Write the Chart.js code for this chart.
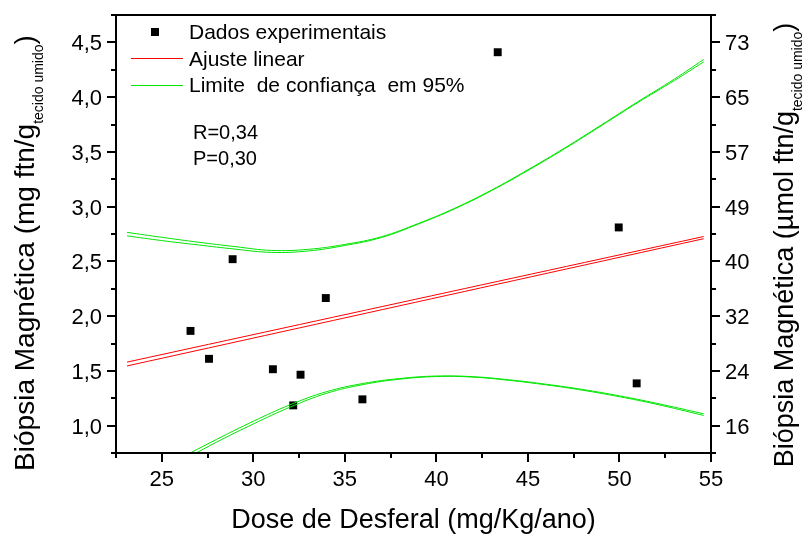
<!DOCTYPE html>
<html>
<head>
<meta charset="utf-8">
<script src="https://cdn.jsdelivr.net/npm/chart.js@4"></script>
<style>
  html, body { margin: 0; padding: 0; background: #fff; }
</style>
</head>
<body>
<canvas id="grafico" width="803" height="536"></canvas>
<script>
// Dados experimentais (dose x biópsia)
const doseX = [26.57, 27.58, 28.87, 31.07, 32.18, 32.58, 33.96, 35.96, 43.35, 49.96, 50.94];
const biopsiaY = [1.865, 1.61, 2.52, 1.515, 1.185, 1.465, 2.165, 1.24, 4.41, 2.81, 1.386];

// Ajuste linear (duas cópias, eixo mg e eixo µmol)
const ajusteX = [23.1, 54.6];
const ajusteA = [1.58, 2.727];
const ajusteB = [1.545, 2.707];

// Limite de confiança superior
const supX = [23.1, 25, 27, 29, 31, 33, 35, 37, 39, 41, 43, 45, 47, 49, 51, 53, 54.6];
const supA = [2.765, 2.72, 2.675, 2.635, 2.60, 2.61, 2.655, 2.725, 2.845, 2.985, 3.15, 3.337, 3.535, 3.745, 3.958, 4.165, 4.344];
const supB = [2.733, 2.69, 2.65, 2.612, 2.582, 2.595, 2.645, 2.718, 2.84, 2.98, 3.145, 3.33, 3.528, 3.738, 3.95, 4.152, 4.322];

// Limite de confiança inferior
const infX = [26.55, 28, 30, 32, 34, 36, 38, 40, 42, 44, 46, 48, 50, 52, 54.6];
const infA = [0.75, 0.875, 1.04, 1.19, 1.31, 1.385, 1.43, 1.453, 1.447, 1.418, 1.378, 1.33, 1.272, 1.205, 1.108];
const infB = [0.72, 0.85, 1.015, 1.168, 1.295, 1.375, 1.424, 1.448, 1.443, 1.413, 1.372, 1.323, 1.264, 1.196, 1.093];

// Eixos
const xTicks = [25, 30, 35, 40, 45, 50, 55];
const yTicks = [1.0, 1.5, 2.0, 2.5, 3.0, 3.5, 4.0, 4.5];
const yTickLabels = ['1,0', '1,5', '2,0', '2,5', '3,0', '3,5', '4,0', '4,5'];
const umolTickLabels = ['16', '24', '32', '40', '49', '57', '65', '73'];

const legendas = ['Dados experimentais', 'Ajuste linear', 'Limite  de confiança  em 95%'];
const estatisticas = ['R=0,34', 'P=0,30'];

const FONTE = '"Liberation Sans", Arial, Helvetica, sans-serif';
const VERMELHO = '#ff0000';
const VERDE = '#00e600';

function pares(xs, ys) {
  return xs.map((x, i) => ({ x: x, y: ys[i] }));
}

function curva(xs, ys, cor) {
  return {
    data: pares(xs, ys),
    showLine: true,
    borderColor: cor,
    borderWidth: 1,
    pointRadius: 0,
    tension: 0.4,
    fill: false
  };
}

function texto(ctx, str, x, y, tam, alinh) {
  ctx.font = tam + 'px ' + FONTE;
  ctx.textAlign = alinh || 'left';
  ctx.textBaseline = 'alphabetic';
  ctx.fillText(str, x, y);
}

// título vertical com subscrito
function tituloVertical(ctx, cx, cy, principal, sub, fecha, tam, tamSub) {
  ctx.save();
  ctx.translate(cx, cy);
  ctx.rotate(-Math.PI / 2);
  ctx.textAlign = 'left';
  ctx.textBaseline = 'alphabetic';
  ctx.font = tam + 'px ' + FONTE;
  const w1 = ctx.measureText(principal).width;
  const w3 = ctx.measureText(fecha).width;
  ctx.font = tamSub + 'px ' + FONTE;
  const w2 = ctx.measureText(sub).width;
  let x = -(w1 + w2 + w3) / 2;
  ctx.font = tam + 'px ' + FONTE;
  ctx.fillText(principal, x, 0);
  x += w1;
  ctx.font = tamSub + 'px ' + FONTE;
  ctx.fillText(sub, x, 9);
  x += w2;
  ctx.font = tam + 'px ' + FONTE;
  ctx.fillText(fecha, x, 0);
  ctx.restore();
}

const moldura = {
  id: 'moldura',
  afterDraw(chart) {
    const ctx = chart.ctx;
    const a = chart.chartArea;
    const sx = chart.scales.x;
    const sy = chart.scales.y;
    ctx.save();
    ctx.fillStyle = '#000';
    ctx.strokeStyle = '#000';
    ctx.lineWidth = 2;
    ctx.strokeRect(a.left, a.top, a.right - a.left, a.bottom - a.top);

    // marcas do eixo x (maiores a cada 5, menores a cada 2,5)
    ctx.beginPath();
    for (let v = sx.min; v <= sx.max + 1e-9; v += 2.5) {
      const px = Math.round(sx.getPixelForValue(v));
      const comp = xTicks.includes(v) ? 9 : 5;
      ctx.moveTo(px, a.bottom);
      ctx.lineTo(px, a.bottom + comp);
    }
    // marcas dos eixos y (esquerda e direita)
    for (let v = 0.75; v <= sy.max + 1e-9; v += 0.25) {
      const py = Math.round(sy.getPixelForValue(v));
      const comp = yTicks.some(t => Math.abs(t - v) < 1e-9) ? 9 : 5;
      ctx.moveTo(a.left, py);
      ctx.lineTo(a.left - comp, py);
      ctx.moveTo(a.right, py);
      ctx.lineTo(a.right + comp, py);
    }
    ctx.stroke();

    xTicks.forEach(v => texto(ctx, String(v), sx.getPixelForValue(v), 486, 22, 'center'));
    yTicks.forEach((v, i) => {
      const py = sy.getPixelForValue(v) + 8;
      texto(ctx, yTickLabels[i], 102, py, 22, 'right');
      texto(ctx, umolTickLabels[i], 725, py, 22, 'left');
    });

    texto(ctx, 'Dose de Desferal (mg/Kg/ano)', (a.left + a.right) / 2, 528, 27, 'center');
    tituloVertical(ctx, 34, 253, 'Biópsia Magnética (mg ftn/g', 'tecido umido', ')', 28, 14);
    tituloVertical(ctx, 793, 245, 'Biópsia Magnética (µmol ftn/g', 'tecido umido', ')', 27, 14);

    // legenda
    ctx.fillRect(151, 28, 8, 8);
    ctx.lineWidth = 1;
    ctx.strokeStyle = VERMELHO;
    ctx.beginPath();
    ctx.moveTo(131, 58.5);
    ctx.lineTo(183, 58.5);
    ctx.stroke();
    ctx.strokeStyle = VERDE;
    ctx.beginPath();
    ctx.moveTo(131, 85.5);
    ctx.lineTo(183, 85.5);
    ctx.stroke();
    legendas.forEach((t, i) => texto(ctx, t, 189, 39 + i * 26.5, 21));
    estatisticas.forEach((t, i) => texto(ctx, t, 193, 139 + i * 26, 20));
    ctx.restore();
  }
};

new Chart(document.getElementById('grafico'), {
  type: 'scatter',
  data: {
    datasets: [
      curva(supX, supA, VERDE),
      curva(supX, supB, VERDE),
      curva(infX, infA, VERDE),
      curva(infX, infB, VERDE),
      curva(ajusteX, ajusteA, VERMELHO),
      curva(ajusteX, ajusteB, VERMELHO),
      {
        data: pares(doseX, biopsiaY),
        pointStyle: 'rect',
        pointRadius: 5.6,
        pointBackgroundColor: '#000',
        pointBorderWidth: 0,
        showLine: false
      }
    ]
  },
  options: {
    responsive: false,
    animation: false,
    devicePixelRatio: 1,
    layout: { padding: { left: 116, right: 92, top: 15, bottom: 83 } },
    plugins: { legend: { display: false }, tooltip: { enabled: false } },
    scales: {
      x: { type: 'linear', min: 22.5, max: 55, display: false },
      y: { type: 'linear', min: 0.75, max: 4.75, display: false }
    }
  },
  plugins: [moldura]
});
</script>
</body>
</html>
